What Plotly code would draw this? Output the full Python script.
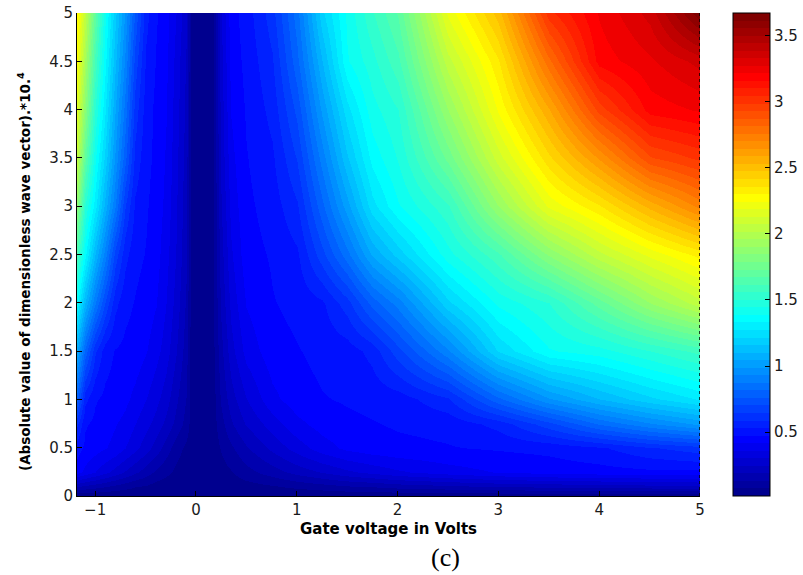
import plotly.graph_objects as go

# Gate voltage (V) sample positions and |k| * 1e4 sample positions
gate_v = [-1.18, -1.1, -1.0, -0.9, -0.8, -0.7, -0.6, -0.5, -0.4, -0.3, -0.2, -0.1, -0.05,
          0.06, 0.17, 0.25, 0.35, 0.5, 0.75, 1.0, 1.25, 1.5, 1.75, 2.0, 2.5, 3.0, 3.5,
          4.0, 4.5, 5.0]
wave_k = [0, 0.1, 0.25, 0.5, 0.75, 1.0, 1.5, 2.0, 2.5, 3.0, 3.5, 4.0, 4.5, 5.0]

# One row of values per wave-vector sample (same order as gate_v)
row_k000 = [0.02] * 30
row_k010 = [0.20, 0.18, 0.16, 0.14, 0.12, 0.10, 0.08, 0.07, 0.05, 0.04, 0.03, 0.03, 0.02,
            0.02, 0.02, 0.03, 0.04, 0.05, 0.07, 0.09, 0.11, 0.13, 0.14, 0.16, 0.18, 0.20,
            0.21, 0.22, 0.23, 0.24]
row_k025 = [0.44, 0.40, 0.36, 0.32, 0.28, 0.24, 0.20, 0.16, 0.12, 0.09, 0.06, 0.04, 0.03,
            0.03, 0.03, 0.05, 0.07, 0.11, 0.16, 0.21, 0.25, 0.29, 0.32, 0.35, 0.39, 0.42,
            0.44, 0.45, 0.46, 0.46]
row_k050 = [0.50, 0.46, 0.44, 0.42, 0.40, 0.36, 0.32, 0.27, 0.22, 0.16, 0.10, 0.06, 0.04,
            0.03, 0.04, 0.08, 0.12, 0.18, 0.26, 0.33, 0.39, 0.43, 0.45, 0.46, 0.47, 0.48,
            0.49, 0.52, 0.58, 0.62]
row_k075 = [0.60, 0.48, 0.46, 0.44, 0.42, 0.40, 0.36, 0.32, 0.28, 0.23, 0.17, 0.11, 0.05,
            0.03, 0.05, 0.11, 0.18, 0.25, 0.33, 0.40, 0.44, 0.46, 0.47, 0.48, 0.49, 0.55,
            0.68, 0.82, 0.92, 1.00]
row_k100 = [0.78, 0.55, 0.48, 0.46, 0.45, 0.43, 0.40, 0.36, 0.32, 0.27, 0.20, 0.13, 0.05,
            0.03, 0.05, 0.14, 0.22, 0.30, 0.40, 0.45, 0.47, 0.48, 0.49, 0.50, 0.58, 0.80,
            0.98, 1.10, 1.20, 1.28]
row_k150 = [1.05, 0.80, 0.60, 0.50, 0.47, 0.46, 0.45, 0.42, 0.38, 0.33, 0.25, 0.16, 0.05,
            0.03, 0.06, 0.17, 0.28, 0.38, 0.45, 0.47, 0.49, 0.50, 0.55, 0.68, 0.92, 1.22,
            1.38, 1.42, 1.50, 1.58]
row_k200 = [1.35, 1.10, 0.88, 0.70, 0.55, 0.49, 0.47, 0.45, 0.42, 0.36, 0.28, 0.18, 0.05,
            0.03, 0.06, 0.20, 0.32, 0.42, 0.47, 0.49, 0.52, 0.62, 0.78, 0.90, 1.20, 1.40,
            1.50, 1.70, 1.90, 2.05]
row_k250 = [1.60, 1.35, 1.10, 0.90, 0.68, 0.55, 0.49, 0.47, 0.44, 0.38, 0.30, 0.20, 0.05,
            0.03, 0.06, 0.22, 0.35, 0.45, 0.48, 0.52, 0.68, 0.85, 1.05, 1.18, 1.42, 1.60,
            1.85, 2.05, 2.20, 2.32]
row_k300 = [1.85, 1.50, 1.30, 1.08, 0.88, 0.65, 0.52, 0.48, 0.45, 0.40, 0.31, 0.21, 0.05,
            0.03, 0.06, 0.24, 0.38, 0.46, 0.50, 0.58, 0.80, 1.02, 1.25, 1.38, 1.55, 1.90,
            2.20, 2.35, 2.55, 2.72]
row_k350 = [2.05, 1.70, 1.40, 1.20, 0.98, 0.78, 0.57, 0.49, 0.46, 0.41, 0.32, 0.22, 0.06,
            0.03, 0.06, 0.26, 0.40, 0.47, 0.52, 0.65, 0.90, 1.15, 1.35, 1.45, 1.75, 2.10,
            2.40, 2.65, 2.92, 3.00]
row_k400 = [2.15, 1.85, 1.50, 1.28, 1.05, 0.85, 0.62, 0.50, 0.46, 0.42, 0.33, 0.23, 0.06,
            0.03, 0.06, 0.27, 0.42, 0.48, 0.55, 0.72, 1.00, 1.25, 1.42, 1.50, 1.90, 2.25,
            2.58, 2.95, 3.18, 3.22]
row_k450 = [2.25, 1.95, 1.60, 1.35, 1.12, 0.92, 0.68, 0.52, 0.47, 0.43, 0.34, 0.24, 0.06,
            0.03, 0.06, 0.28, 0.44, 0.49, 0.58, 0.80, 1.10, 1.38, 1.48, 1.60, 2.05, 2.35,
            2.80, 3.18, 3.26, 3.35]
row_k500 = [2.30, 2.05, 1.70, 1.40, 1.18, 0.98, 0.75, 0.55, 0.48, 0.44, 0.36, 0.26, 0.06,
            0.03, 0.06, 0.30, 0.45, 0.50, 0.62, 0.85, 1.20, 1.40, 1.55, 1.68, 2.20, 2.50,
            3.02, 3.22, 3.35, 3.66]

z_rows = [row_k000, row_k010, row_k025, row_k050, row_k075, row_k100, row_k150,
          row_k200, row_k250, row_k300, row_k350, row_k400, row_k450, row_k500]

cbar_ticks = [0.5, 1, 1.5, 2, 2.5, 3, 3.5]
c_min, c_max = 0.017, 3.67


def jet(m=64):
    """Classic 64-level jet colormap as a stepped Plotly colorscale."""
    n = m // 4
    u = [(i + 1) / n for i in range(n)] + [1.0] * (n - 1) + [(n - i) / n for i in range(n)]
    R, G, B = [0.0] * m, [0.0] * m, [0.0] * m
    for j, uu in enumerate(u):
        gi = n // 2 + j + 1
        for arr, idx in ((G, gi), (R, gi + n), (B, gi - n)):
            if 1 <= idx <= m:
                arr[idx - 1] = uu
    scale = []
    for i in range(m):
        c = f"rgb({round(R[i]*255)},{round(G[i]*255)},{round(B[i]*255)})"
        scale.append([i / m, c])
        scale.append([(i + 1) / m, c])
    return scale


font_sans = "DejaVu Sans, Verdana, sans-serif"
plot_w, plot_h = 623, 483

fig = go.Figure(
    go.Heatmap(
        x=gate_v, y=wave_k, z=z_rows,
        zmin=c_min, zmax=c_max, zsmooth="best",
        colorscale=jet(),
        colorbar=dict(
            x=1.053, xanchor="left", xpad=0, y=0.5, yanchor="middle", ypad=0,
            len=1, lenmode="fraction", thickness=37,
            outlinewidth=1, outlinecolor="black",
            tickvals=cbar_ticks, ticks="inside", ticklen=5, tickcolor="black",
            tickfont=dict(family=font_sans, size=15, color="#1a1a1a"),
        ),
        hoverinfo="skip",
    )
)

# left-edge tick marks of the colour bar
cb_left = 1.053
for t in cbar_ticks:
    yy = (t - c_min) / (c_max - c_min)
    fig.add_shape(type="line", xref="paper", yref="paper",
                  x0=cb_left, x1=cb_left + 6 / plot_w, y0=yy, y1=yy,
                  line=dict(color="black", width=1))

# dotted right border of the axes box
fig.add_shape(type="line", xref="x", yref="y", x0=5, x1=5, y0=0, y1=5,
              line=dict(color="black", width=1.5, dash="dot"))

# vertical axis label, placed as rotated text
fig.add_annotation(text="<b>(Absolute value of dimensionless wave vector).*10.<sup>4</sup></b>",
                   xref="paper", yref="paper", x=(24 - 77) / plot_w, y=(496 - 272) / plot_h,
                   xanchor="center", yanchor="middle", textangle=-90, showarrow=False,
                   font=dict(family=font_sans, size=13.5, color="black"))

fig.add_annotation(text="(c)", xref="paper", yref="paper", x=(445 - 77) / plot_w,
                   y=(496 - 557) / plot_h, xanchor="center", yanchor="middle",
                   showarrow=False,
                   font=dict(family="Liberation Serif, Times New Roman, serif", size=26,
                             color="black"))

fig.update_layout(
    width=803, height=575,
    margin=dict(l=77, r=103, t=13, b=79, autoexpand=False),
    paper_bgcolor="white", plot_bgcolor="white",
    font=dict(family=font_sans, size=15, color="#1a1a1a"),
    xaxis=dict(
        range=[-1.18, 5], tickvals=[-1, 0, 1, 2, 3, 4, 5],
        ticks="inside", ticklen=5, tickcolor="black",
        showline=True, linecolor="black", linewidth=1, mirror=False,
        showgrid=False, zeroline=False,
        tickfont=dict(size=15),
        title=dict(text="<b>Gate voltage in Volts</b>", font=dict(size=15, color="black"),
                   standoff=5),
    ),
    yaxis=dict(
        range=[0, 5], tickvals=[0, 0.5, 1, 1.5, 2, 2.5, 3, 3.5, 4, 4.5, 5],
        ticks="inside", ticklen=5, tickcolor="black",
        showline=True, linecolor="black", linewidth=1, mirror=False,
        showgrid=False, zeroline=False,
        tickfont=dict(size=15),
    ),
)

fig.write_html("out.html")
